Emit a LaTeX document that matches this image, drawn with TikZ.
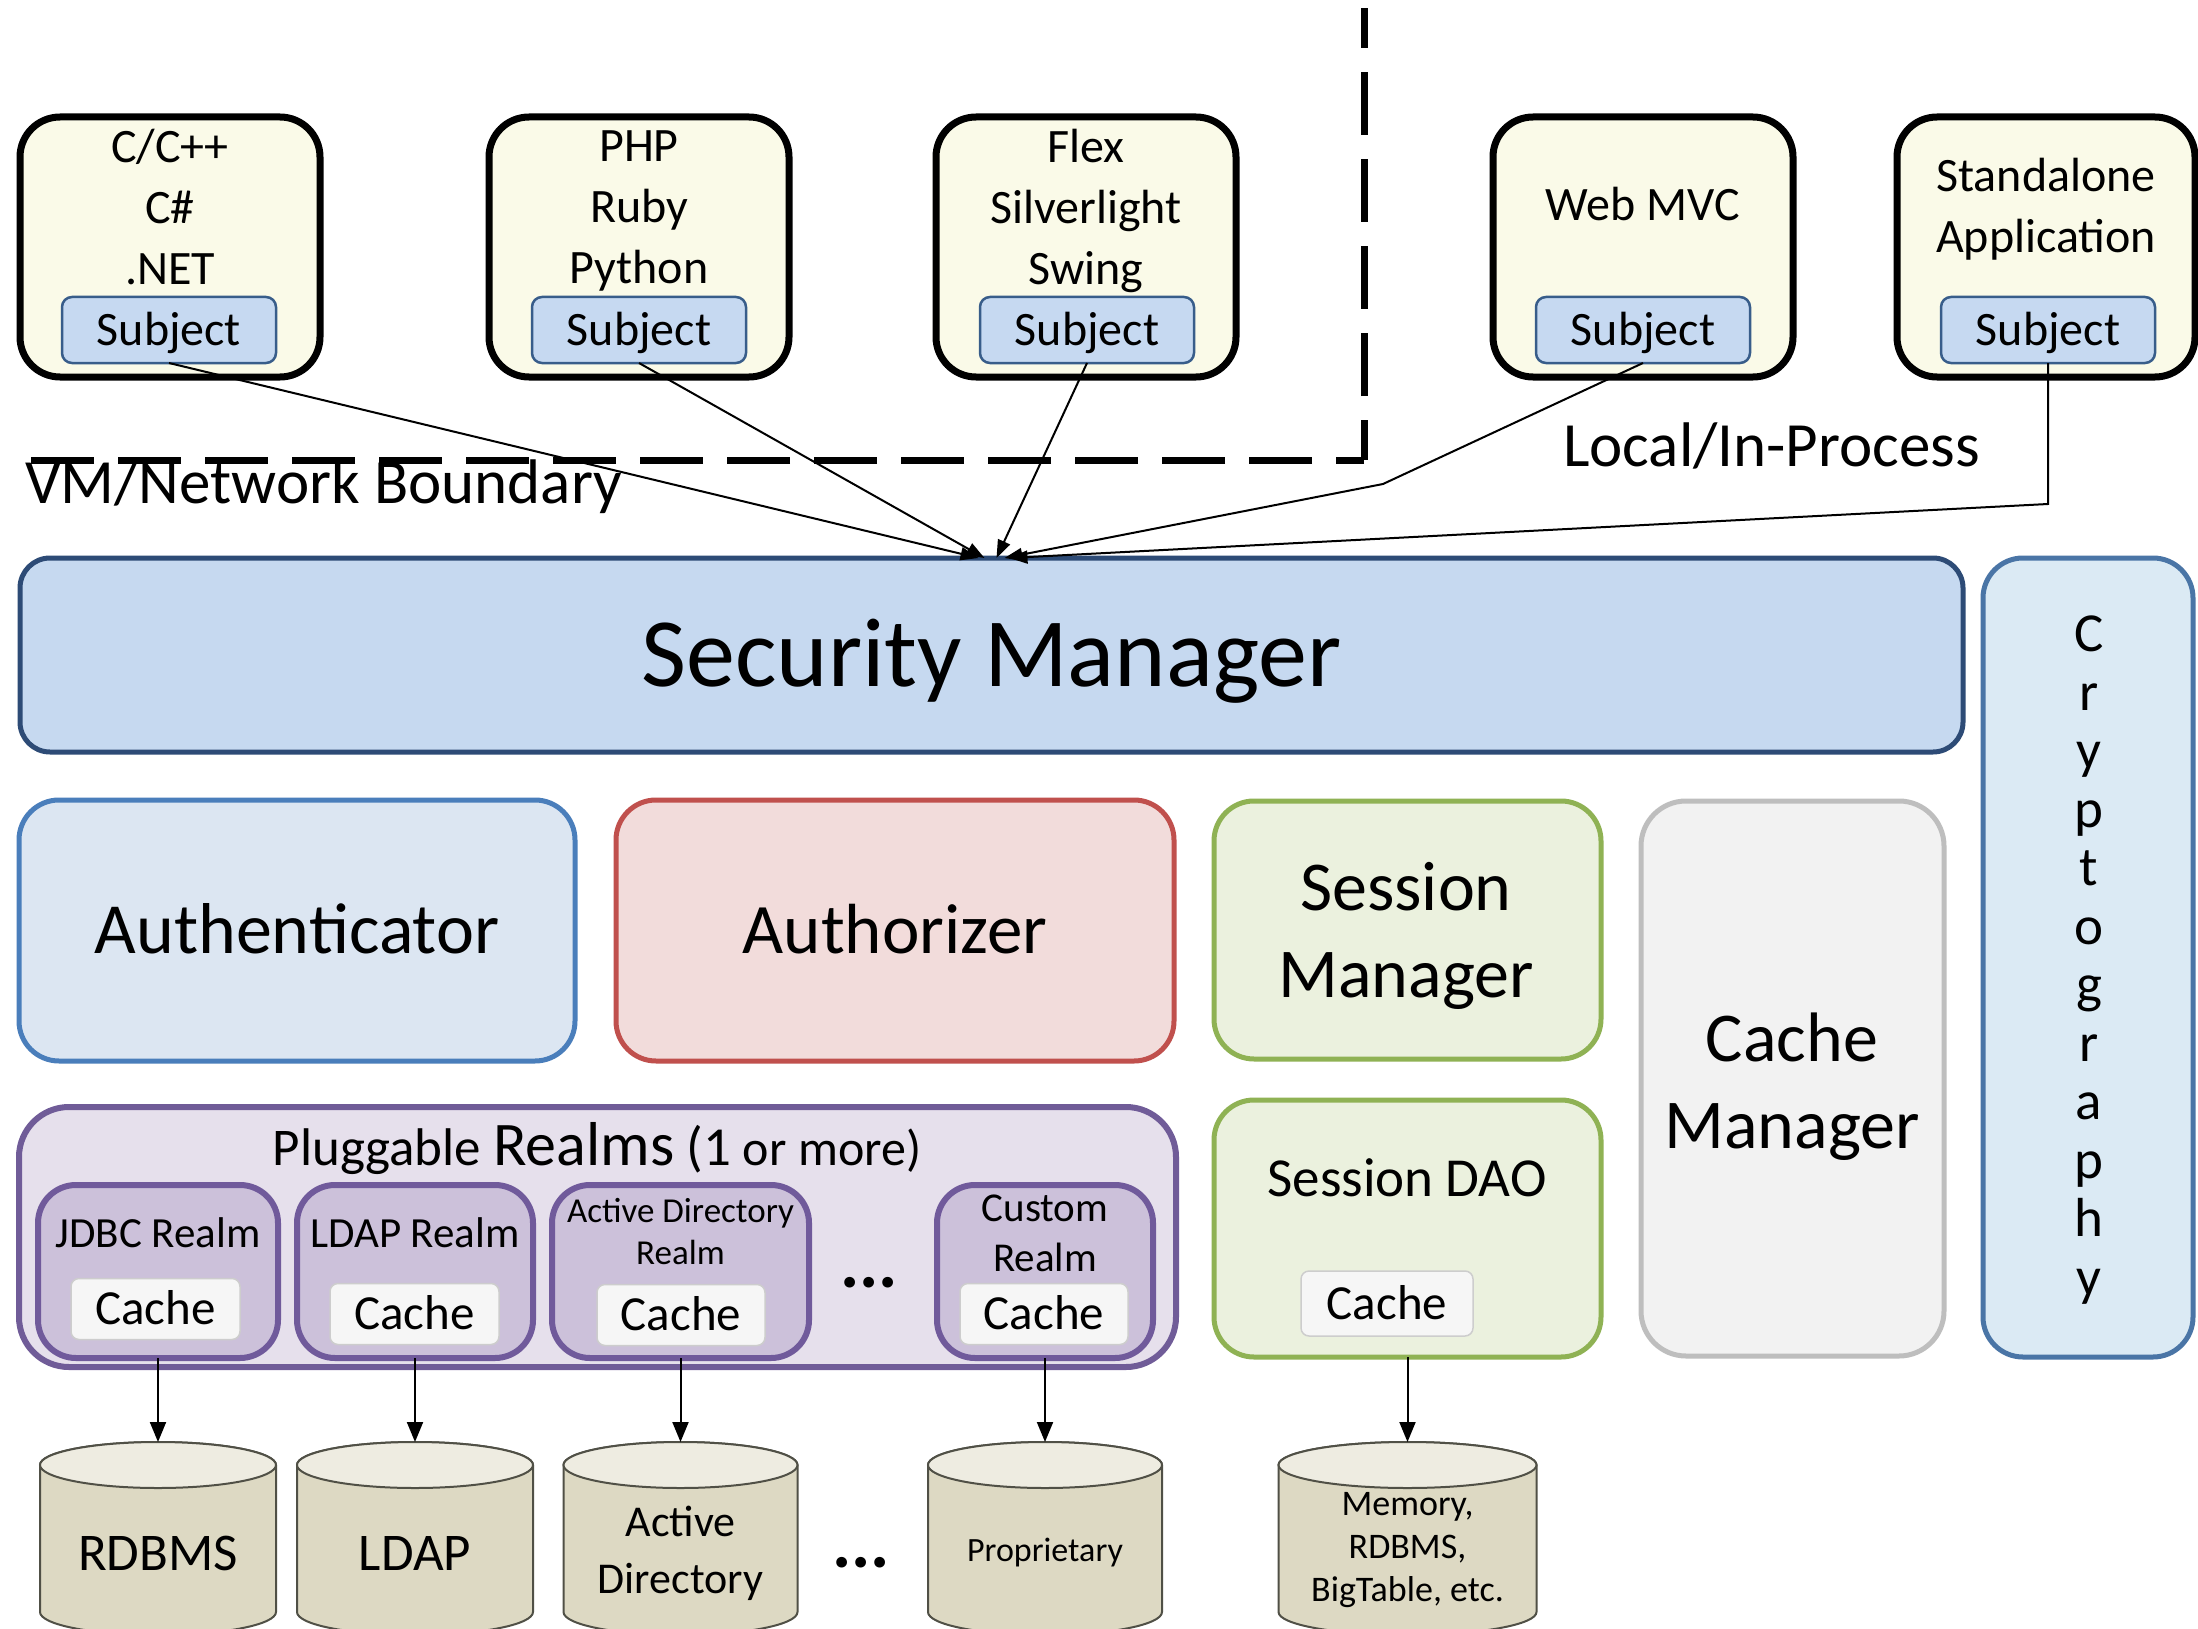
\documentclass[tikz,border=0pt]{standalone}
\usepackage{fontspec}
\setmainfont{Carlito}
\usetikzlibrary{arrows.meta}
\definecolor{topfill}{RGB}{250,250,232}
\definecolor{subjfill}{RGB}{198,217,241}
\definecolor{subjdraw}{RGB}{56,93,138}
\definecolor{smfill}{RGB}{198,217,240}
\definecolor{smdraw}{RGB}{45,75,118}
\definecolor{cryfill}{RGB}{219,234,244}
\definecolor{crydraw}{RGB}{74,117,166}
\definecolor{authfill}{RGB}{220,230,242}
\definecolor{authdraw}{RGB}{74,126,187}
\definecolor{azfill}{RGB}{242,220,219}
\definecolor{azdraw}{RGB}{192,80,77}
\definecolor{sessfill}{RGB}{235,241,222}
\definecolor{sessdraw}{RGB}{143,178,84}
\definecolor{cmfill}{RGB}{242,242,242}
\definecolor{cmdraw}{RGB}{190,190,190}
\definecolor{plugfill}{RGB}{230,224,236}
\definecolor{plugdraw}{RGB}{112,92,152}
\definecolor{realmfill}{RGB}{204,193,218}
\definecolor{realmdraw}{RGB}{112,90,155}
\definecolor{cachefill}{RGB}{246,246,246}
\definecolor{cachedraw}{RGB}{205,205,205}
\definecolor{cylbodyc}{RGB}{221,217,195}
\definecolor{cyltopc}{RGB}{238,236,225}
\definecolor{cyldrawc}{RGB}{80,80,70}
\newcommand{\fsz}[2]{\fontsize{#1}{#2}\selectfont}
\newcommand{\dbcylinder}[3]{%
  \path[cylbody] ({#2-#3},1465) -- ({#2-#3},1612)
    arc[start angle=180,end angle=0,x radius=#3,y radius=23]
    -- ({#2+#3},1465)
    arc[start angle=0,end angle=-180,x radius=#3,y radius=23] -- cycle;
  \path[cyltop] (#2,1465) ellipse[x radius=#3,y radius=23];
  \coordinate (#1top) at (#2,1442);
}
\begin{document}
\begin{tikzpicture}[x=1pt,y=-1pt,
  every node/.style={inner sep=0pt,outer sep=0pt},
  topbox/.style={draw=black,fill=topfill,line width=7pt,rounded corners=40pt,minimum width=300pt,minimum height=260pt},
  toptext/.style={align=center,font=\fsz{48}{61}},
  subjbox/.style={draw=subjdraw,fill=subjfill,line width=2.5pt,rounded corners=10pt,minimum width=214pt,minimum height=66pt,font=\fsz{48}{58},text height=30pt,text depth=0pt},
  boundary/.style={line width=7pt,dash pattern=on 63pt off 24pt},
  bigfont/.style={font=\fsz{63}{70}},
  smbox/.style={draw=smdraw,fill=smfill,line width=5pt,rounded corners=30pt,minimum width=1943pt,minimum height=194pt,font=\fsz{98}{110},text height=62pt,text depth=0pt},
  crybox/.style={draw=crydraw,fill=cryfill,line width=5pt,rounded corners=40pt,minimum width=210pt,minimum height=799pt},
  crytext/.style={align=center,font=\fsz{55}{58.5}},
  compbox/.style={line width=5pt,rounded corners=40pt,minimum height=261pt,font=\fsz{71}{86},text height=45pt,text depth=0pt},
  comptext/.style={align=center,font=\fsz{70}{87}},
  plugbox/.style={draw=plugdraw,fill=plugfill,line width=6pt,rounded corners=50pt,minimum width=1157pt,minimum height=260pt},
  realmbox/.style={draw=realmdraw,fill=realmfill,line width=6pt,rounded corners=38pt,minimum height=173pt},
  cachebox/.style={draw=cachedraw,fill=cachefill,line width=1.5pt,rounded corners=8pt,minimum width=169pt,minimum height=61pt,font=\fsz{49}{58},text height=31pt,text depth=0pt},
  cylbody/.style={fill=cylbodyc,draw=cyldrawc,line width=2pt},
  cyltop/.style={fill=cyltopc,draw=cyldrawc,line width=2pt},
  conn/.style={line width=2pt,-{Triangle[length=18pt,width=13pt]}},
  dbarrow/.style={line width=2pt,-{Triangle[length=20pt,width=16pt]}}
]
\useasboundingbox (0,0) rectangle (2198,1629);
\fill[white] (0,0) rectangle (2198,1629);

% ---- client boxes
\node[topbox] (b1) at (170,247) {};
\node[topbox] (b2) at (639,247) {};
\node[topbox] (b3) at (1086,247) {};
\node[topbox] (b4) at (1643,247) {};
\node[topbox,minimum width=298pt] (b5) at (2046,247) {};
\node[toptext] (t1) at (170,207) {C/C++\\C\#\\.NET};
\node[toptext] (t2) at (639,211) {PHP\\Ruby\\Python};
\node[toptext] (t3) at (1086,211) {Flex\\Silverlight\\Swing};
\node[toptext,anchor=base] (t4) at (1643,221) {Web MVC};
\node[toptext] (t5) at (2046,209) {Standalone\\Application};
\node[subjbox] (s1) at (169,330) {Subject};
\node[subjbox] (s2) at (639,330) {Subject};
\node[subjbox] (s3) at (1087,330) {Subject};
\node[subjbox] (s4) at (1643,330) {Subject};
\node[subjbox] (s5) at (2048,330) {Subject};

% ---- boundary
\coordinate (vmc) at (1364,460);
\coordinate (vmtop) at (1364,8);
\coordinate (vmleft) at (20,460);
\draw[boundary,dash phase=23pt] (vmc) -- (vmtop);
\draw[boundary,dash phase=35pt] (vmc) -- (vmleft);
\node[bigfont,anchor=base west] (vmlbl) at (25,503) {VM/Network Boundary};
\node[bigfont,anchor=base west] (lplbl) at (1563,466) {Local/In-Process};

% ---- security manager and cryptography
\node[smbox] (sm) at (991.5,655) {Security Manager};
\node[crybox] (cry) at (2088,957.5) {};
\node[crytext] (cryt) at (2089,960) {C\\r\\y\\p\\t\\o\\g\\r\\a\\p\\h\\y};

% ---- components
\node[compbox,draw=authdraw,fill=authfill,minimum width=556pt,font=\fsz{72}{86}] (authn) at (297,930.5) {Authenticator};
\node[compbox,draw=azdraw,fill=azfill,minimum width=558pt] (authz) at (895,930.5) {Authorizer};
\node[compbox,draw=sessdraw,fill=sessfill,minimum width=387pt,minimum height=258pt] (sessm) at (1407.5,930) {};
\node[comptext] (sessmt) at (1406,936) {Session\\Manager};
\node[compbox,draw=cmdraw,fill=cmfill,minimum width=303pt,minimum height=555pt,rounded corners=45pt] (cachem) at (1792.5,1078.5) {};
\node[comptext] (cachemt) at (1792,1087) {Cache\\Manager};
\node[compbox,draw=sessdraw,fill=sessfill,minimum width=387pt,minimum height=257pt] (sdao) at (1407.5,1228.5) {};
\node[font=\fsz{55}{64},anchor=base] (sdaot) at (1407,1196) {Session DAO};
\node[cachebox,minimum width=172pt,minimum height=65pt] (sdaoc) at (1387,1303.5) {Cache};

% ---- realms
\node[plugbox] (plug) at (597.5,1237) {};
\node[anchor=base,font=\fsz{53}{60}] (plugt) at (597,1165) {Pluggable {\fsz{62}{66}Realms} {\fsz{55}{60}(1} {\fsz{50}{60}or more)}};
\node[realmbox,minimum width=240pt] (jdbc) at (158,1271.5) {};
\node[realmbox,minimum width=236pt] (ldap) at (415,1271.5) {};
\node[realmbox,minimum width=257pt] (adr) at (680.5,1271.5) {};
\node[realmbox,minimum width=216pt] (cust) at (1045,1271.5) {};
\node[anchor=base,font=\fsz{43}{50}] (jdbct) at (158,1247) {JDBC Realm};
\node[anchor=base,font=\fsz{43}{50}] (ldapt) at (415,1247) {LDAP Realm};
\node[align=center,font=\fsz{35}{42}] (adrt) at (680.5,1232) {Active Directory\\Realm};
\node[align=center,font=\fsz{41}{50}] (custt) at (1045,1233) {Custom\\Realm};
\node[cachebox] (jc) at (155.5,1309) {Cache};
\node[cachebox] (lc) at (414.5,1314) {Cache};
\node[cachebox,minimum width=168pt] (ac) at (681,1315) {Cache};
\node[cachebox,minimum width=168pt] (cc) at (1044,1314) {Cache};
\node[font=\fsz{72}{80}\bfseries] (rdots) at (869,1283) {...};

% ---- data stores
\dbcylinder{rdb}{158}{118}
\dbcylinder{ldb}{415}{118}
\dbcylinder{adb}{680.5}{117}
\dbcylinder{pdb}{1045}{117}
\dbcylinder{mdb}{1407.5}{129}
\node[anchor=base,font=\fsz{53}{60}] (rdbt) at (158,1570) {RDBMS};
\node[anchor=base,font=\fsz{53}{60}] (ldbt) at (415,1570) {LDAP};
\node[align=center,font=\fsz{44}{57}] (adbt) at (680.5,1553) {Active\\Directory};
\node[anchor=base,font=\fsz{34}{40}] (pdbt) at (1045,1561) {Proprietary};
\node[align=center,font=\fsz{36}{43}] (mdbt) at (1407.5,1550) {Memory,\\RDBMS,\\BigTable, etc.};
\node[font=\fsz{72}{80}\bfseries] (cdots) at (861,1563) {...};

% ---- connectors
\draw[conn] (s1.south) -- ([xshift=-13pt]sm.north);
\draw[conn] (s2.south) -- ([xshift=-7pt]sm.north);
\draw[conn] (s3.south) -- ([xshift=5pt]sm.north);
\coordinate (k4) at (1383,484);
\draw[conn] (s4.south) -- (k4) -- ([xshift=13pt]sm.north);
\coordinate (k5) at (2048,504);
\draw[conn] (s5.south) -- (k5) -- ([xshift=18pt]sm.north);

\draw[dbarrow] (jdbc.south) -- (rdbtop);
\draw[dbarrow] (ldap.south) -- (ldbtop);
\draw[dbarrow] (adr.south) -- (adbtop);
\draw[dbarrow] (cust.south) -- (pdbtop);
\draw[dbarrow] (sdao.south) -- (mdbtop);
\end{tikzpicture}
\end{document}
